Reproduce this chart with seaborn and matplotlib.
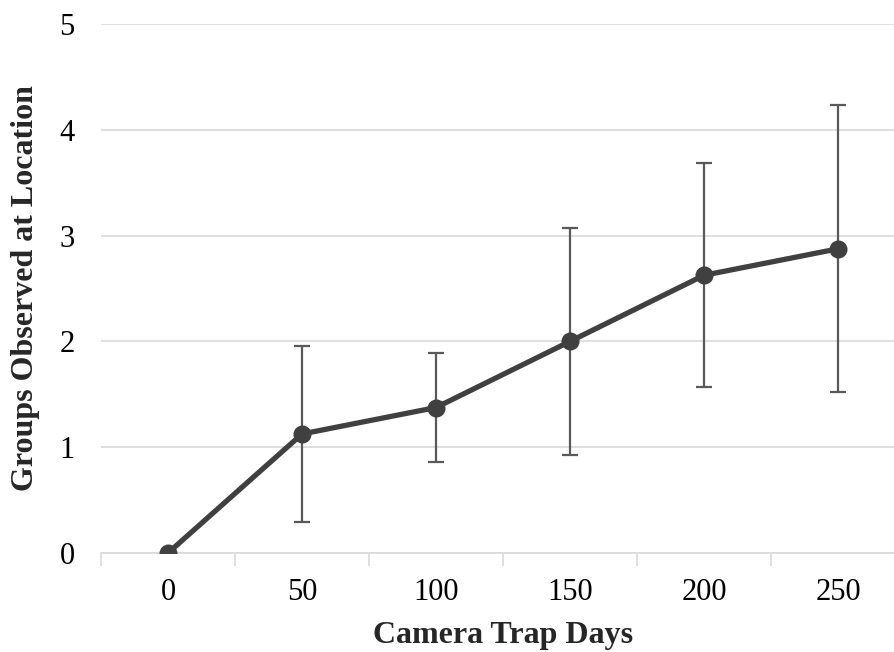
import matplotlib
matplotlib.use("Agg")
import matplotlib.pyplot as plt
import seaborn as sns
import pandas as pd
import numpy as np

# Camera trap effort vs. groups observed
trap_days = ["0", "50", "100", "150", "200", "250"]
groups_mean = [0.0, 1.125, 1.375, 2.0, 2.625, 2.875]
groups_err = [0.0, 0.835, 0.515, 1.07, 1.06, 1.355]

sns.set_theme(style="white")
plt.rcParams["font.family"] = ["Liberation Serif", "DejaVu Serif"]

df = pd.DataFrame({"days": trap_days, "pos": np.arange(len(trap_days)),
                   "groups": groups_mean, "err": groups_err})

fig = plt.figure(figsize=(8.94, 6.52), dpi=100)
ax = fig.add_axes([101 / 894, 1 - 553 / 652, (905 - 101) / 894, (553 - 24) / 652])

line_col = "#404040"
err_col = "#595959"

# error bars (skip the zero-effort point)
has_err = df[df["err"] > 0]
ax.errorbar(has_err["pos"], has_err["groups"], yerr=has_err["err"], fmt="none",
            ecolor=err_col, elinewidth=1.6, capsize=6, capthick=1.6, zorder=2)

sns.lineplot(data=df, x="pos", y="groups", ax=ax, color=line_col, linewidth=3.8,
             marker="o", markersize=13, markeredgewidth=0, zorder=3)

ax.set_xlim(-0.5, 5.5)
ax.set_ylim(0, 5)
ax.set_yticks(range(6))
ax.set_xticks(df["pos"])
ax.set_xticklabels(trap_days)
ax.set_xticks(np.arange(-0.5, 6.0, 1.0), minor=True)

ax.grid(axis="y", color="#d9d9d9", linewidth=1.2)
ax.set_axisbelow(True)
for s in ["top", "right", "left"]:
    ax.spines[s].set_visible(False)
ax.spines["bottom"].set_color("#d9d9d9")
ax.spines["bottom"].set_linewidth(1.2)

ax.tick_params(axis="x", which="major", length=0, labelsize=22, pad=18, colors="black")
ax.tick_params(axis="x", which="minor", length=9, width=1.2, color="#d9d9d9", bottom=True)
ax.tick_params(axis="y", length=0, labelsize=22, pad=19, colors="black")

ax.set_xlabel("Camera Trap Days", fontsize=23, fontweight="bold", labelpad=10)
ax.set_ylabel("Groups Observed at Location", fontsize=23, fontweight="bold", labelpad=14)

fig.savefig("out.png", dpi=100)
